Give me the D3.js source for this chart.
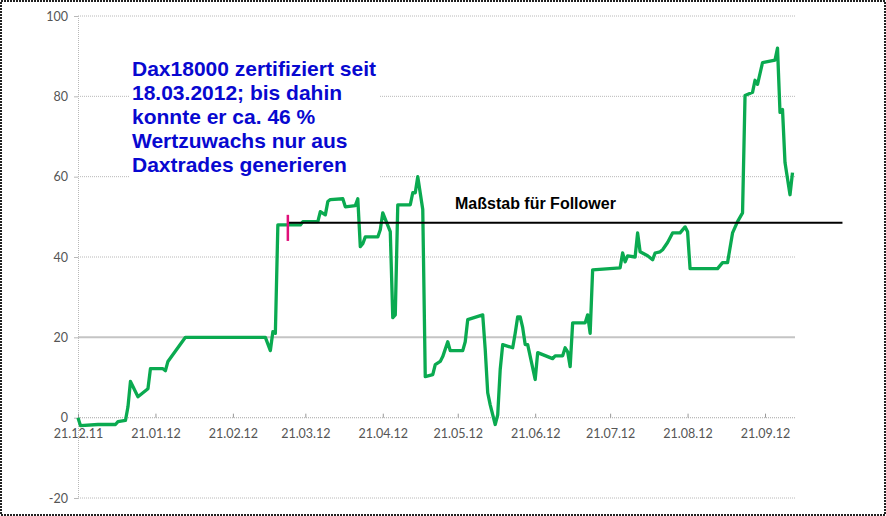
<!DOCTYPE html>
<html>
<head>
<meta charset="utf-8">
<script src="https://cdn.jsdelivr.net/npm/d3@7"></script>
<style>
  html, body { margin: 0; padding: 0; background: #fff; }
  svg { display: block; }
</style>
</head>
<body>
<div id="chart-hook"></div>
<script>
// depot curve
var dates = [
  '2011-12-21', '2011-12-22', '2011-12-29', '2012-01-05', '2012-01-06', '2012-01-09', '2012-01-10', '2012-01-11',
  '2012-01-14', '2012-01-18', '2012-01-19', '2012-01-24', '2012-01-25', '2012-01-26', '2012-02-02', '2012-03-05',
  '2012-03-07', '2012-03-08', '2012-03-09', '2012-03-10', '2012-03-19', '2012-03-20', '2012-03-26', '2012-03-27',
  '2012-03-29', '2012-03-30', '2012-03-31', '2012-04-05', '2012-04-06', '2012-04-10', '2012-04-11', '2012-04-12',
  '2012-04-13', '2012-04-14', '2012-04-19', '2012-04-20', '2012-04-21', '2012-04-24', '2012-04-25', '2012-04-26',
  '2012-04-27', '2012-05-02', '2012-05-03', '2012-05-04', '2012-05-05', '2012-05-07', '2012-05-08', '2012-05-11',
  '2012-05-12', '2012-05-14', '2012-05-15', '2012-05-17', '2012-05-18', '2012-05-23', '2012-05-24', '2012-05-25',
  '2012-05-31', '2012-06-01', '2012-06-02', '2012-06-03', '2012-06-05', '2012-06-06', '2012-06-07', '2012-06-08',
  '2012-06-12', '2012-06-13', '2012-06-14', '2012-06-15', '2012-06-16', '2012-06-17', '2012-06-18', '2012-06-21',
  '2012-06-22', '2012-06-28', '2012-06-29', '2012-07-02', '2012-07-03', '2012-07-04', '2012-07-05', '2012-07-06',
  '2012-07-11', '2012-07-12', '2012-07-13', '2012-07-14', '2012-07-25', '2012-07-26', '2012-07-27', '2012-07-28',
  '2012-07-31', '2012-08-01', '2012-08-02', '2012-08-05', '2012-08-07', '2012-08-08', '2012-08-10', '2012-08-11',
  '2012-08-13', '2012-08-15', '2012-08-18', '2012-08-20', '2012-08-21', '2012-08-22', '2012-09-02', '2012-09-04',
  '2012-09-06', '2012-09-08', '2012-09-10', '2012-09-12', '2012-09-13', '2012-09-16', '2012-09-17', '2012-09-18',
  '2012-09-20', '2012-09-25', '2012-09-26', '2012-09-27', '2012-09-28', '2012-09-29', '2012-10-01', '2012-10-02'
]
var values = [
  0, -2, -1.7, -1.7, -1, -0.7, 2.7, 9,
  5.2, 7.2, 12.2, 12.2, 11.7, 14, 20, 20,
  16.7, 21.4, 21, 48, 48, 48.8, 48.8, 51.3,
  50.5, 53.8, 54.3, 54.5, 52.5, 52.8, 54.5, 42.6,
  43.3, 45, 45, 46.8, 51, 46.3, 24.9, 25.6,
  53, 53, 56, 56, 60, 51.8, 10.2, 10.7,
  13.2, 14, 15.2, 18.9, 16.7, 16.7, 18.9, 24.4,
  25.6, 17, 6.2, 3.2, -1.7, 0.7, 12, 18.2,
  17.4, 21, 25.1, 25.1, 22.4, 18.2, 18.2, 9.5,
  16.2, 14.7, 15.4, 15.4, 17.4, 16.4, 12.7, 23.6,
  23.6, 25.6, 21, 36.8, 37.3, 41, 38.8, 40.3,
  40, 46, 41.3, 40.3, 39.3, 41, 41.3, 41.8,
  43.6, 46, 46, 47.5, 46.3, 37.1, 37.1, 38.6,
  38.6, 46, 48.8, 51, 80.2, 81, 84, 83,
  88.4, 89, 92, 76, 76.7, 63.5, 55.5, 61
]

var yTicks = [-20, 0, 20, 40, 60, 80, 100]
var xTickDates = ['2011-12-21', '2012-01-21', '2012-02-21', '2012-03-21', '2012-04-21', '2012-05-21',
  '2012-06-21', '2012-07-21', '2012-08-21', '2012-09-21']

// the "Maßstab" level and the pink start marker
var followerLevel = 48.5
var followerFrom = '2012-03-14'
var followerTo = '2012-10-22'
var markerRange = [44, 50.5]

var noteLines = [
  'Dax18000 zertifiziert seit',
  '18.03.2012; bis dahin',
  'konnte er ca. 46 %',
  'Wertzuwachs nur aus',
  'Daxtrades generieren'
]
var levelLabel = 'Maßstab für Follower'

/**
 * setup
 */

var W = 886, H = 516
var parse = d3.timeParse('%Y-%m-%d')
var fmt = d3.timeFormat('%d.%m.%y')

var svg = d3.select('#chart-hook')
  .append('svg')
  .attr('width', W)
  .attr('height', H)

var x = d3.scaleTime()
  .domain([parse('2011-12-21'), parse('2012-10-03')])
  .range([78, 795])

var y = d3.scaleLinear()
  .domain([-20, 100])
  .range([498, 16])

var labelFont = 'Lato, "Open Sans", sans-serif'
var gridColor = '#b8b8b8'

/**
 * grid
 */

yTicks.forEach(function (t) {
  svg.append('line')
    .attr('x1', 78).attr('x2', 795)
    .attr('y1', y(t)).attr('y2', y(t))
    .style('stroke', t === 20 ? '#c4c4c4' : gridColor)
    .style('stroke-width', t === 20 ? 2 : 1)
    .style('stroke-dasharray', t === 20 ? null : '1,1')
})

// y axis (plain hyphen for negatives, like the original)
var yAxis = d3.axisLeft(y)
  .tickValues(yTicks)
  .tickFormat(function (d) { return String(d) })
  .tickSize(4)
  .tickPadding(6)
var gy = svg.append('g').attr('transform', 'translate(78,0)').call(yAxis)
gy.select('.domain').style('stroke', gridColor).style('stroke-dasharray', '1,1')
gy.selectAll('.tick line').style('stroke', gridColor)
gy.selectAll('text')
  .style('font-family', labelFont)
  .style('font-size', '12.5px')
  .style('fill', '#555')

// x axis sits on the zero line
var xAxis = d3.axisBottom(x)
  .tickValues(xTickDates.map(parse))
  .tickFormat(fmt)
  .tickSizeInner(-4)
  .tickSizeOuter(0)
  .tickPadding(11)
var gx = svg.append('g').attr('transform', 'translate(0,' + y(0) + ')').call(xAxis)
gx.select('.domain').style('stroke', gridColor).style('stroke-dasharray', '1,1')
  .attr('d', 'M78,0H795')
gx.selectAll('.tick line').style('stroke', '#999')
gx.selectAll('text')
  .style('font-family', labelFont)
  .style('font-size', '12.5px')
  .style('fill', '#555')

/**
 * note box (white background hides the grid behind it)
 */

svg.append('rect')
  .attr('x', 130).attr('y', 46)
  .attr('width', 250).attr('height', 136)
  .style('fill', '#fff')

svg.append('g').selectAll('text')
  .data(noteLines)
  .enter()
  .append('text')
  .attr('x', 132)
  .attr('y', function (d, i) { return 76 + i * 24 })
  .text(function (d) { return d })
  .style('font-family', '"Liberation Sans", Arial, sans-serif')
  .style('font-weight', 'bold')
  .style('font-size', '21px')
  .style('fill', '#0808d0')

/**
 * series
 */

var points = dates.map(function (d, i) { return { date: parse(d), value: values[i] } })

var line = d3.line()
  .x(function (d) { return x(d.date) })
  .y(function (d) { return y(d.value) })

svg.append('path')
  .datum(points)
  .attr('d', line)
  .style('fill', 'none')
  .style('stroke', '#0aaa50')
  .style('stroke-width', 3.3)
  .style('stroke-linejoin', 'round')

// follower level
svg.append('line')
  .attr('x1', x(parse(followerFrom))).attr('x2', x(parse(followerTo)))
  .attr('y1', y(followerLevel)).attr('y2', y(followerLevel))
  .style('stroke', '#000')
  .style('stroke-width', 2)

svg.append('line')
  .attr('x1', x(parse(followerFrom))).attr('x2', x(parse(followerFrom)))
  .attr('y1', y(markerRange[0])).attr('y2', y(markerRange[1]))
  .style('stroke', '#e0107a')
  .style('stroke-width', 2.5)

svg.append('text')
  .attr('x', 455)
  .attr('y', 209)
  .text(levelLabel)
  .style('font-family', '"Liberation Sans", Arial, sans-serif')
  .style('font-weight', 'bold')
  .style('font-size', '16px')
  .style('fill', '#000')

// dotted frame round the whole picture
svg.append('rect')
  .attr('x', 1).attr('y', 1)
  .attr('width', W - 2).attr('height', H - 2)
  .style('fill', 'none')
  .style('stroke', '#222')
  .style('stroke-width', 2)
  .style('stroke-dasharray', '2,1')
</script>
</body>
</html>
